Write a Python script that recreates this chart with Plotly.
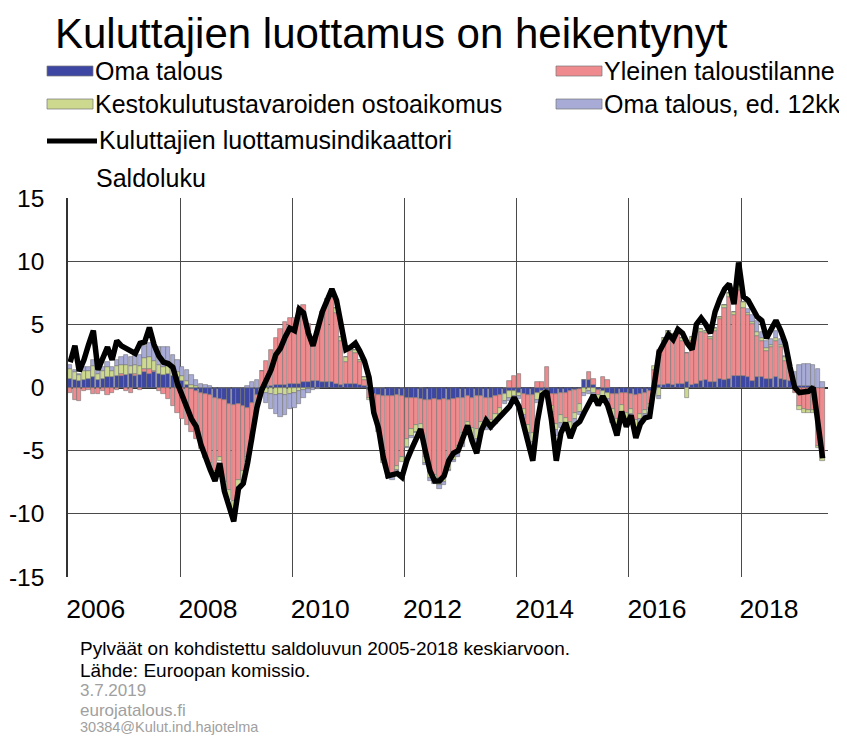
import plotly.graph_objects as go

# ---------------- data (monthly, Jan 2006 - Jun 2019) ----------------
months = [f"{2006 + i // 12}-{i % 12 + 1:02d}-15" for i in range(162)]

oma_talous = [
    0.7, 0.6, 0.5, 0.6, 0.7, 0.8, 0.6, 0.7, 0.8, 0.8, 0.9, 0.9,
    1.0, 1.1, 0.9, 1.0, 1.2, 1.1, 1.2, 1.1, 1.0, 1.1, 0.9, 0.8,
    0.5, 0.2, -0.1, -0.3, -0.4, -0.5, -0.6, -0.8, -0.9, -1.0, -1.3, -1.4,
    -1.3, -1.5, -1.6, -1.2, -0.6, -0.1, 0.1, 0.1, 0.2, 0.2, 0.2, 0.3,
    0.3, 0.3, 0.4, 0.4, 0.5, 0.5, 0.4, 0.4, 0.4, 0.3, 0.2, 0.3,
    0.3, 0.3, 0.2, 0.1, -0.2, -0.5, -0.6, -0.7, -0.7, -0.7, -0.6, -0.7,
    -0.8, -0.8, -0.8, -0.9, -1.0, -1.0, -0.9, -1.0, -0.9, -1.0, -0.9, -0.8,
    -0.8, -0.7, -0.8, -0.7, -0.7, -0.8, -0.8, -0.7, -0.6, -0.5, -0.3, -0.3,
    -0.4, -0.5, -0.6, -0.6, -0.4, -0.3, -0.3, -0.5, -0.5, -0.4, -0.4, -0.3,
    -0.2, -0.1, 0.6, 0.6, 0.2, -0.2, -0.3, -0.4, -0.5, -0.5, -0.4, -0.4,
    -0.5, -0.6, -0.5, -0.4, -0.3, 0.1, 0.2, 0.2, 0.3, 0.2, 0.3, 0.3,
    0.4, 0.2, 0.3, 0.5, 0.6, 0.4, 0.4, 0.7, 0.6, 0.7, 0.9, 0.9,
    0.9, 0.8, 0.5, 0.8, 0.8, 0.7, 0.7, 0.8, 0.7, 0.6, 0.5, 0.1,
    0.1, 0.1, 0.1, 0.1, 0.0, 0.0,
]

yleinen = [
    -0.4, -1.0, -1.1, -0.3, -0.2, -0.5, -0.5, -0.3, -0.6, -0.4, -0.2, 0.2,
    -0.3, -0.4, 0.2, -0.2, 0.3, 0.4, 0.1, -0.3, -0.5, -0.9, -1.5, -2.0,
    -2.5, -3.0, -3.4, -3.8, -4.4, -4.9, -5.4, -5.8, -4.6, -6.5, -6.8, -7.6,
    -6.0, -5.1, -3.9, -2.8, -0.8, 1.3, 2.0, 2.9, 3.7, 4.4, 5.0, 5.2,
    5.2, 6.0, 6.1, 4.6, 2.8, 4.0, 5.3, 6.2, 6.7, 5.6, 3.5, 1.7,
    2.6, 2.4, 1.8, 0.5, -0.6, -1.1, -2.6, -5.0, -6.0, -6.1, -5.6, -4.8,
    -3.3, -2.5, -2.2, -2.0, -4.5, -5.7, -6.0, -6.2, -6.0, -5.0, -4.2, -3.8,
    -2.8, -2.0, -2.4, -2.6, -2.0, -1.6, -1.8, -1.4, -1.0, 0.0, 0.5, 0.9,
    1.1, -1.2, -2.4, -3.0, 0.4, 0.4, 1.6, -1.0, -2.4, -1.8, -2.0, -2.4,
    -1.8, -1.2, 0.0, 0.6, 0.5, -0.4, 0.8, 0.6, -1.2, -2.0, -1.0, -1.6,
    -1.2, -2.0, -1.6, -1.4, -1.0, 1.3, 2.8, 3.5, 3.9, 3.8, 4.0, 3.4,
    2.3, 3.5, 4.2, 3.9, 3.7, 3.4, 4.1, 4.7, 5.7, 6.5, 4.8, 6.8,
    5.4, 4.9, 4.5, 3.3, 2.9, 2.2, 2.5, 2.9, 2.5, 1.5, 1.0, -0.4,
    -1.5, -1.7, -1.8, -1.8, -4.6, -5.5,
]

kestokulutus = [
    0.8, 0.6, 0.5, 0.7, 0.6, 0.9, 0.5, 0.6, 0.8, 0.5, 0.8, 0.7,
    0.8, 0.6, 0.7, 0.7, 0.8, 0.9, 0.8, 0.7, 0.6, 0.6, 0.5, 0.4,
    0.4, 0.3, 0.2, 0.1, -0.1, -0.2, -0.3, -0.4, -0.3, -0.5, -0.8, -0.7,
    -0.6, -0.7, -0.4, -0.3, -0.2, -0.2, -0.4, -0.5, -0.6, -0.5, -0.6, -0.5,
    -0.4, -0.3, -0.2, -0.1, 0.2, 0.3, 0.3, 0.4, 0.5, 0.4, 0.3, 0.4,
    0.3, 0.3, 0.2, 0.2, -0.2, -0.2, -0.3, -0.3, -0.4, -0.3, -0.3, -0.4,
    -0.6, -0.5, -0.5, -0.4, -0.5, -0.5, -0.4, -0.5, -0.6, -0.5, -0.6, -0.7,
    -0.8, -0.7, -0.6, -0.8, -0.6, -0.7, -0.5, -0.6, -0.5, -0.6, -0.5, -0.4,
    -0.3, -0.5, -0.6, -0.7, -0.6, -0.5, -0.3, -0.4, -0.5, -0.6, -0.5, -0.6,
    -0.5, -0.6, -0.4, -0.3, -0.4, -0.5, -0.4, -0.5, -0.6, -0.5, -0.6, -0.5,
    -0.4, -0.5, -0.4, -0.3, -0.3, 0.3, -0.7, 0.2, 0.3, 0.2, 0.3, 0.2,
    -0.8, 0.3, 0.2, 0.2, 0.2, 0.2, 0.2, 0.2, 0.2, 0.3, 0.3, 0.5,
    0.5, 0.2, 0.2, 0.3, 0.2, 0.2, 0.2, 0.2, 0.2, 0.3, 0.1, 0.1,
    -0.3, -0.3, -0.2, -0.2, -0.2, -0.3,
]

oma_12kk = [
    0.3, 0.2, 0.1, 0.3, 0.3, 0.5, 0.2, 0.3, 0.4, 0.3, 0.5, 0.6,
    0.8, 0.7, 0.8, 0.9, 1.0, 1.1, 1.2, 1.4, 1.6, 1.5, 1.2, 1.0,
    0.7, 0.9, 0.8, 0.5, 0.3, 0.2, 0.1, 0.0, 0.0, 0.0, 0.0, 0.0,
    0.0, 0.0, 0.1, 0.4, 0.6, 0.0, -0.8, -1.2, -1.5, -1.8, -1.6, -1.2,
    -1.2, -1.0, -0.6, -0.3, -0.2, -0.1, 0.0, 0.0, 0.1, 0.0, 0.0, 0.0,
    0.0, 0.0, 0.0, 0.0, 0.0, 0.0, 0.0, 0.0, -0.1, -0.2, -0.1, 0.0,
    -0.1, -0.2, -0.1, 0.0, -0.1, -0.2, -0.3, -0.3, -0.2, -0.1, -0.2, -0.2,
    -0.3, -0.2, -0.3, -0.3, -0.4, -0.3, -0.3, -0.2, -0.3, -0.2, -0.3, -0.2,
    -0.2, -0.3, -0.4, -0.3, -0.2, -0.2, -0.2, -0.3, -0.4, -0.4, -0.4, -0.3,
    -0.4, -0.3, -0.3, -0.2, -0.3, -0.3, -0.4, -0.4, -0.5, -0.6, -0.4, -0.5,
    -0.5, -0.4, -0.4, -0.3, -0.2, -0.2, -0.2, 0.0, 0.0, 0.0, 0.0, 0.0,
    0.0, 0.0, 0.0, 0.0, 0.0, 0.0, 0.0, 0.0, 0.0, 0.0, 0.0, 0.0,
    0.0, 0.3, 0.5, 0.9, 0.5, 0.6, 0.4, 0.6, 0.4, 0.1, 0.0, 1.0,
    1.7, 1.8, 1.8, 1.7, 1.5, 0.4,
]

indikaattori = [
    2.0, 3.3, 1.3, 2.2, 3.4, 4.5, 1.4, 2.4, 3.2, 2.2, 3.7, 3.3,
    3.1, 2.9, 2.7, 3.5, 3.6, 4.75, 3.4, 2.5, 2.0, 1.9, 1.6, 0.3,
    -0.8, -1.6, -2.5, -3.1, -4.5, -5.6, -6.5, -7.4, -6.0, -8.2, -9.6, -10.6,
    -8.0, -7.6, -6.0, -3.6, -1.6, -0.2, 0.6, 1.4, 2.6, 3.1, 4.0, 4.7,
    4.5, 6.2, 5.9, 4.3, 3.3, 4.8, 6.0, 6.9, 7.8, 6.9, 5.0, 3.0,
    3.2, 3.5, 2.9, 2.1, 0.8, -2.0, -3.2, -5.5, -7.0, -6.9, -6.8, -7.1,
    -5.8, -4.9, -4.0, -3.3, -5.0, -6.6, -7.4, -7.4, -7.0, -5.8, -5.2, -5.0,
    -4.0, -3.0, -4.2, -5.2, -3.4, -2.6, -3.1, -2.7, -2.3, -1.9, -1.5, -0.8,
    -1.5, -3.0, -4.5, -5.8, -2.7, -0.6, -0.3, -2.6, -5.8, -3.6, -2.8, -4.0,
    -3.0, -2.7, -2.0, -1.2, -0.6, -1.4, -0.7, -1.4, -2.7, -3.8, -1.9, -3.1,
    -2.2, -4.0, -2.9, -2.4, -2.3, 0.4, 2.8, 3.5, 4.2, 3.8, 4.6, 4.3,
    3.5, 3.0, 5.0, 5.5, 5.0, 4.3, 6.0, 7.0, 7.8, 8.2, 6.6, 9.9,
    7.2, 6.9, 6.2, 5.6, 5.3, 3.9, 4.6, 5.3, 4.5, 3.5, 1.6, 0.0,
    -0.4, -0.4, -0.3, 0.0, -2.8, -5.6,
]

tick_years = ["2006", "2008", "2010", "2012", "2014", "2016", "2018"]
y_ticks = [-15, -10, -5, 0, 5, 10, 15]

series_names = ["Oma talous", "Yleinen taloustilanne",
                "Kestokulutustavaroiden ostoaikomus", "Oma talous, ed. 12kk"]
line_name = "Kuluttajien luottamusindikaattori"

# ---------------- layout geometry ----------------
# The page adds an 8 px body margin, so the figure is 8 px smaller and all
# target coordinates (given in window pixels) are shifted by 8 px.
OFF = 8
W, H = 847 - OFF, 736 - OFF
PLOT_L, PLOT_R, PLOT_T, PLOT_B = 68, 828, 198, 577   # window pixels
L, T = PLOT_L - OFF, PLOT_T - OFF
R, B = W - (PLOT_R - OFF), H - (PLOT_B - OFF)
PW, PH = PLOT_R - PLOT_L, PLOT_B - PLOT_T

colors = ["#3d47a3", "#ef8a8e", "#ccd98e", "#a7abd6"]
FONT = "Liberation Sans, Arial, sans-serif"


def px(x):
    return (x - PLOT_L) / PW


def py(y):
    return (PLOT_B - y) / PH


fig = go.Figure()
for name, vals, col in zip(series_names,
                           [oma_talous, yleinen, kestokulutus, oma_12kk], colors):
    fig.add_trace(go.Bar(x=months, y=vals, name=name, marker_color=col,
                         marker_line=dict(color="rgba(115,115,115,0.85)", width=0.7),
                         showlegend=False))

fig.add_trace(go.Scatter(x=months, y=indikaattori, name=line_name, mode="lines",
                         line=dict(color="black", width=5.5), showlegend=False))

# custom legend (wide swatches as in the original)
shapes = []
annotations = []
legend_items = [
    (47, 71, colors[0], series_names[0]),
    (556, 71, colors[1], series_names[1]),
    (47, 104, colors[2], series_names[2]),
    (556, 104, colors[3], series_names[3]),
]
for x0, yc, col, name in legend_items:
    shapes.append(dict(type="rect", xref="paper", yref="paper",
                       x0=px(x0), x1=px(x0 + 46), y0=py(yc + 5), y1=py(yc - 5),
                       fillcolor=col, line=dict(color="rgba(120,120,120,0.9)", width=0.8)))
    annotations.append(dict(x=px(x0 + 46), y=py(yc), xref="paper", yref="paper",
                            text=name, showarrow=False, xanchor="left", yanchor="middle",
                            font=dict(family=FONT, size=25, color="black")))
shapes.append(dict(type="line", xref="paper", yref="paper",
                   x0=px(47), x1=px(97), y0=py(141), y1=py(141),
                   line=dict(color="black", width=5)))
annotations.append(dict(x=px(97), y=py(140), xref="paper", yref="paper",
                        text=line_name, showarrow=False, xanchor="left", yanchor="middle",
                        font=dict(family=FONT, size=25, color="black")))

# title and other texts
annotations.append(dict(x=px(53), y=py(33), xref="paper", yref="paper",
                        text="Kuluttajien luottamus on heikentynyt", showarrow=False,
                        xanchor="left", yanchor="middle",
                        font=dict(family=FONT, size=42, color="black")))
annotations.append(dict(x=px(94), y=py(178), xref="paper", yref="paper",
                        text="Saldoluku", showarrow=False, xanchor="left", yanchor="middle",
                        font=dict(family=FONT, size=25, color="black")))
foot = [
    (648, "Pylväät on kohdistettu saldoluvun 2005-2018 keskiarvoon.", "black", 19),
    (670, "Lähde: Euroopan komissio.", "black", 19),
    (690, "3.7.2019", "#a0a0a0", 17),
    (710, "eurojatalous.fi", "#a0a0a0", 17),
    (727, "30384@Kulut.ind.hajotelma", "#a0a0a0", 14.5),
]
for yc, txt, col, sz in foot:
    annotations.append(dict(x=px(78), y=py(yc), xref="paper", yref="paper",
                            text=txt, showarrow=False, xanchor="left", yanchor="middle",
                            font=dict(family=FONT, size=sz, color=col)))

fig.update_layout(
    width=W, height=H,
    margin=dict(l=L, r=R, t=T, b=B, pad=0),
    paper_bgcolor="white", plot_bgcolor="white",
    barmode="relative", bargap=0.0,
    shapes=shapes, annotations=annotations,
    font=dict(family=FONT, size=25, color="black"),
    xaxis=dict(
        type="date", automargin=False,
        range=["2006-01-01", "2019-07-20"],
        tickmode="array",
        tickvals=[f"{y}-07-01" for y in tick_years],
        ticktext=tick_years,
        ticks="", showgrid=False, zeroline=False, showline=False,
        ticklabelstandoff=13,
        tickfont=dict(family=FONT, size=26.5),
        minor=dict(tickmode="array",
                   tickvals=[f"{y}-01-01" for y in tick_years],
                   showgrid=True, gridcolor="#4a4a4a", gridwidth=1.3, ticks=""),
    ),
    yaxis=dict(
        automargin=False,
        range=[-15, 15],
        tickmode="array", tickvals=y_ticks, ticktext=[str(v) for v in y_ticks],
        showgrid=True, gridcolor="#4a4a4a", gridwidth=1.3,
        zeroline=True, zerolinecolor="#333", zerolinewidth=1.5,
        showline=True, linecolor="#333", linewidth=1.5,
        ticks="", ticklabelstandoff=17,
        tickfont=dict(family=FONT, size=24.5),
    ),
)

fig.write_html("out.html")
